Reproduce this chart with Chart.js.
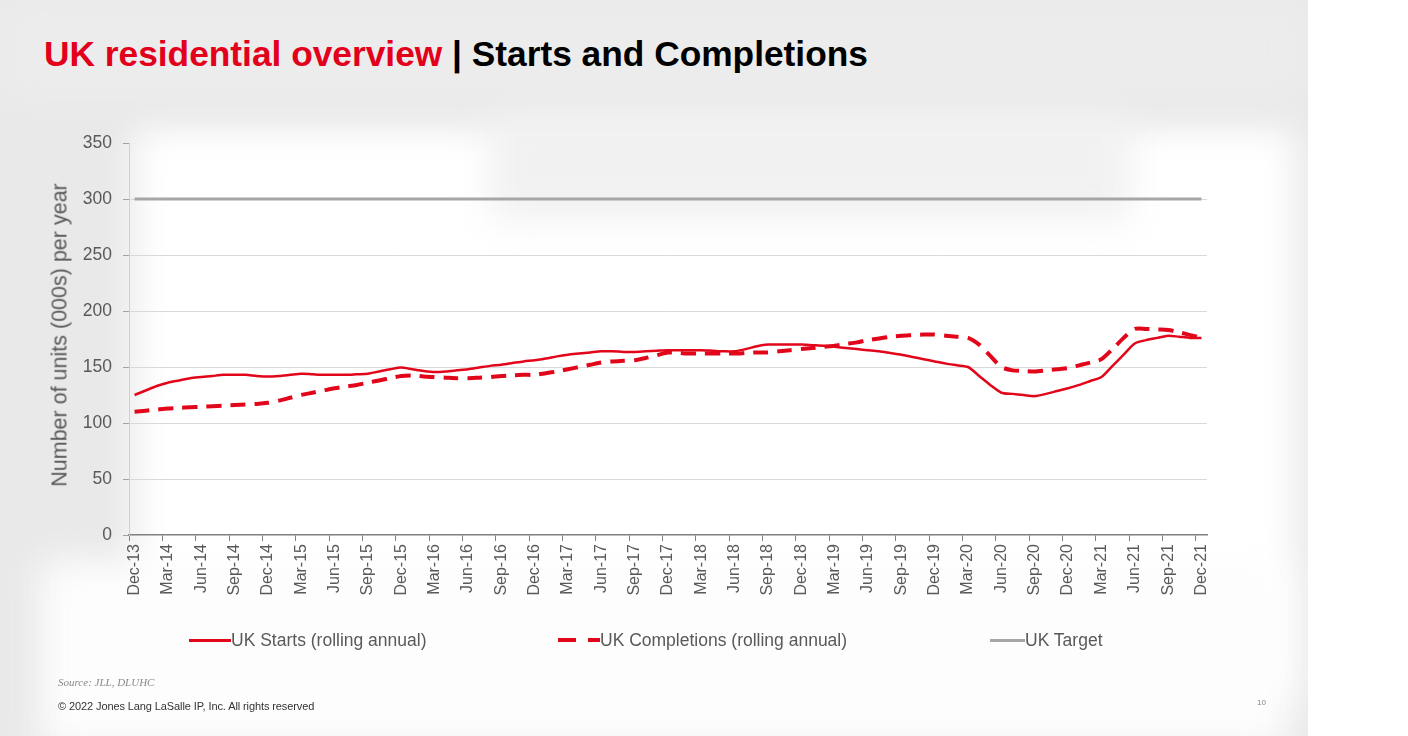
<!DOCTYPE html>
<html><head><meta charset="utf-8">
<script src="https://cdn.jsdelivr.net/npm/chart.js@4.4.1/dist/chart.umd.min.js"></script>
<style>
html,body{margin:0;padding:0;width:1408px;height:736px;overflow:hidden;background:#fff;font-family:"Liberation Sans",Arial,sans-serif;}
#slide{position:absolute;left:0;top:0;width:1308px;height:736px;background:#e9e9e9;overflow:hidden;}
.blob{position:absolute;background:#fff;filter:blur(18px);}
#title{position:absolute;left:44px;top:34px;font-size:35.3px;line-height:40px;font-weight:bold;white-space:nowrap;color:#000;}
#title .red{color:#e3001b;}
#ytitle{position:absolute;left:60px;top:335px;transform:translate(-50%,-50%) rotate(-90deg);font-size:21.5px;color:#595959;white-space:nowrap;}
#chart{position:absolute;left:0;top:0;}
.leg{position:absolute;top:630px;height:20px;font-size:17.5px;line-height:20px;color:#595959;white-space:nowrap;}
.sw{position:absolute;top:9px;}
#src{position:absolute;left:58px;top:676px;font-family:"Liberation Serif",serif;font-style:italic;font-size:11px;color:#8a8a8a;}
#copy{position:absolute;left:58px;top:700px;font-size:11px;color:#333;letter-spacing:-0.1px;}
#page{position:absolute;left:1257px;top:698px;font-size:8px;color:#888;}
</style></head>
<body>
<div id="slide">
  <div class="blob" style="left:135px;top:128px;width:1160px;height:570px;"></div>
  <div class="blob" style="left:490px;top:105px;width:640px;height:115px;background:#f1f1f1;"></div>
  <div class="blob" style="left:0px;top:0px;width:1308px;height:100px;background:#ececec;"></div>
  <div class="blob" style="left:40px;top:560px;width:1250px;height:190px;background:#fdfdfd;"></div>
</div>
<div id="title"><span class="red">UK residential overview</span> | Starts and Completions</div>
<canvas id="chart" width="1408" height="736"></canvas>
<div id="ytitle">Number of units (000s) per year</div>
<div class="leg" style="left:189px;">
  <div class="sw" style="left:0;width:42px;height:3px;background:#e2061b;"></div>
  <span style="position:absolute;left:42px;">UK Starts (rolling annual)</span>
</div>
<div class="leg" style="left:558px;">
  <div class="sw" style="left:0;top:8px;width:18px;height:4px;background:#e2061b;"></div>
  <div class="sw" style="left:30px;top:8px;width:12px;height:4px;background:#e2061b;"></div>
  <span style="position:absolute;left:42px;">UK Completions (rolling annual)</span>
</div>
<div class="leg" style="left:990px;">
  <div class="sw" style="left:0;width:35px;height:3px;background:#a6a6a6;"></div>
  <span style="position:absolute;left:35px;">UK Target</span>
</div>
<div id="src">Source: JLL, DLUHC</div>
<div id="copy">© 2022 Jones Lang LaSalle IP, Inc. All rights reserved</div>
<div id="page">10</div>
<script>
// Monthly categories Dec-13 .. Dec-21
const monthNames = ['Jan','Feb','Mar','Apr','May','Jun','Jul','Aug','Sep','Oct','Nov','Dec'];
const months = ['Dec-13'];
for (let y = 14; y <= 21; y++) for (let m = 0; m < 12; m++) months.push(monthNames[m] + '-' + y);

// UK Starts (rolling annual), 000s
const starts = [125,
 129,133,136,138,140,141,142,143,143,143,142,141.5,
 142,143,144,143.5,143,143,143,143.5,144,146,148,149.5,
 148,146.5,145.5,146,147,148,149.5,151,152,153.5,155,156,
 157.5,159.5,161,162,163,164,164,163.5,163.5,164,164.5,165,
 165,165,165,164.5,164,164,166,168.5,170,170,170,170,
 169.5,169,168,167,166,165,164,162.5,161,159,157,155,
 153,151.5,150,142,134,127,126,125,124,126,128.5,131,
 134,137.5,141,151,161,171,174,176,178,177,176,176];

// UK Completions (rolling annual), 000s
const completions = [110,
 111,112,113,113.5,114,114.5,115,115.5,116,116.5,117,118,
 120,122.5,125,127,129,131,132.5,134,136,138,140,142,
 142.5,141.5,141,140.5,140,140,140.5,141,142,142.5,143,143,
 144.5,146,148,150,152,154,155,155.5,156,158,160.5,163,
 162.5,162,162,162,162,162,162.5,163,163,164,165,166,
 167,168,169,170.5,172,174,175.5,177,178,178.5,179,179,
 178,177,176,170,160,150,147,146.5,146,147,148,149,
 151.5,154,157,166,176,184,184,183.5,183,181,178.5,176];

// UK Target, 000s
const target = months.map(() => 300);

const yTicks = [0,50,100,150,200,250,300,350];
const RED = '#e2061b';

new Chart(document.getElementById('chart'), {
  type: 'line',
  data: {
    labels: months,
    datasets: [
      {label:'UK Target', data: target, borderColor:'#a6a6a6', borderWidth:3, pointRadius:0, tension:0},
      {label:'UK Completions (rolling annual)', data: completions, borderColor:RED, borderWidth:4, borderDash:[15,9], pointRadius:0, tension:0.25},
      {label:'UK Starts (rolling annual)', data: starts, borderColor:RED, borderWidth:2.5, pointRadius:0, tension:0.25}
    ]
  },
  options: {
    responsive:false, animation:false, devicePixelRatio:1,
    layout:{padding:{left:0, top:143, right:201, bottom:121}},
    plugins:{legend:{display:false}, tooltip:{enabled:false}},
    scales:{
      x:{
        type:'category', offset:true,
        afterFit:(s)=>{ s.height = 80; },
        grid:{offset:true, drawOnChartArea:false, tickLength:6,
              color:(c)=> (c.index % 3 === 0 ? '#808080' : 'rgba(0,0,0,0)')},
        border:{color:'#808080', width:1.5},
        ticks:{autoSkip:false, minRotation:90, maxRotation:90, padding:3,
               color:'#595959', font:{family:'"Liberation Sans", Arial, sans-serif', size:16},
               callback:function(v,i){ return i % 3 === 0 ? this.getLabelForValue(v) : ''; }}
      },
      y:{
        min:0, max:350,
        afterFit:(s)=>{ s.width = 129; },
        afterBuildTicks:(s)=>{ s.ticks = yTicks.map(v=>({value:v})); },
        grid:{color:(c)=> (c.tick && (c.tick.value === 350 || c.tick.value === 0) ? 'rgba(0,0,0,0)' : '#d9d9d9'),
              tickColor:'#a0a0a0', tickLength:6, lineWidth:1},
        border:{color:'#d0d0d0', width:1},
        ticks:{padding:11, color:'#595959', font:{family:'"Liberation Sans", Arial, sans-serif', size:17.5}}
      }
    }
  }
});
</script>
</body></html>
